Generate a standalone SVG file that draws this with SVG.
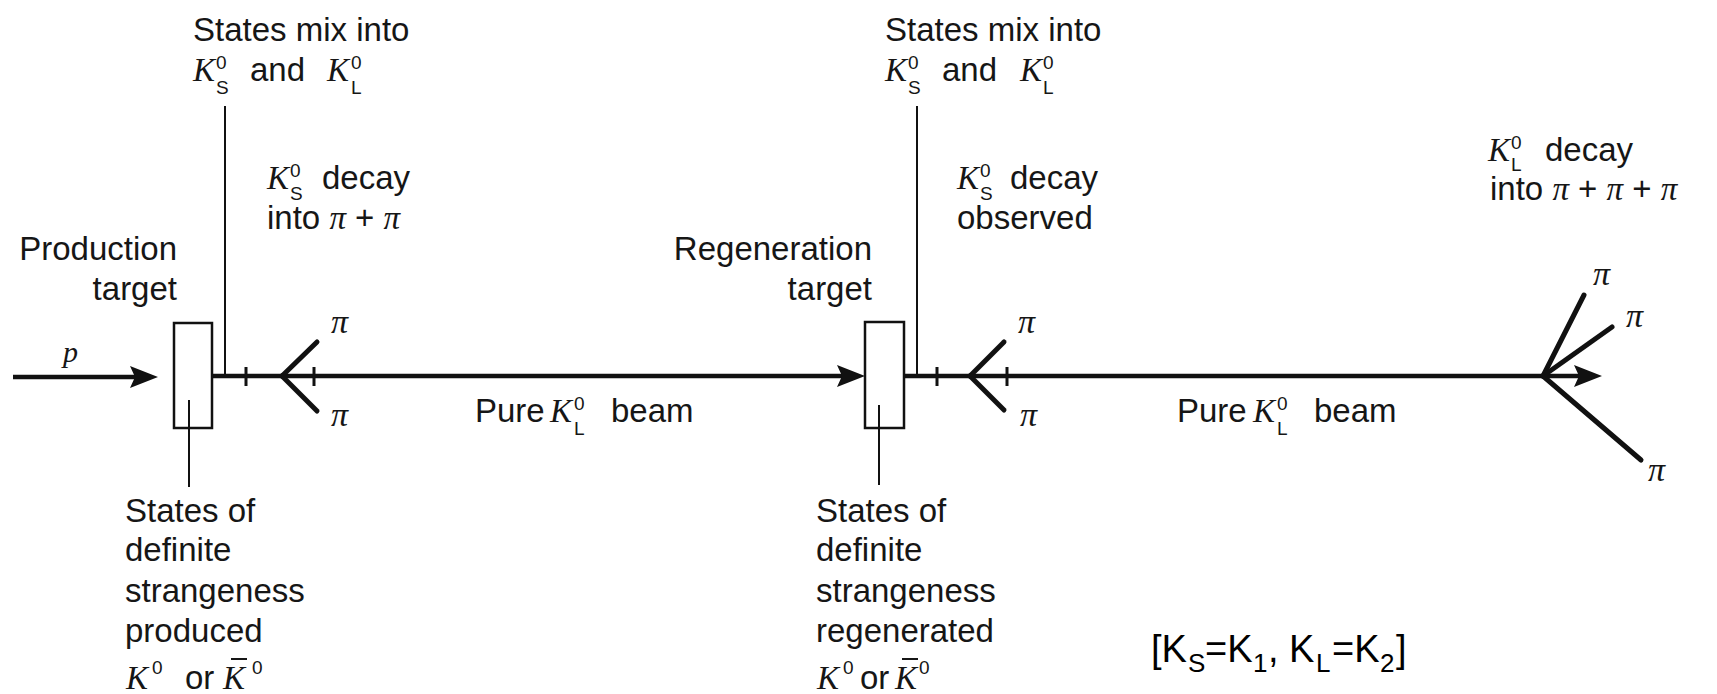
<svg xmlns="http://www.w3.org/2000/svg" width="1717" height="694" viewBox="0 0 1717 694">
<style>
.t{font-family:"Liberation Sans",Arial,sans-serif;font-size:33px;fill:#161616}
.k{font-family:"Liberation Serif","Times New Roman",serif;font-style:italic;font-size:33px}
.s{font-family:"Liberation Sans",Arial,sans-serif;font-style:normal;font-size:19px}
.pi{font-family:"Liberation Serif","Times New Roman",serif;font-style:italic;font-size:34px;fill:#161616}
.c{font-family:"Comic Sans MS","Liberation Sans",sans-serif;font-size:38px;fill:#000}
.cs{font-size:26px}
.box{fill:none;stroke:#111;stroke-width:2.5}
.beam{stroke:#111;stroke-width:4.5;fill:none}
.lead{stroke:#111;stroke-width:2;fill:none}
.tick{stroke:#111;stroke-width:3;fill:none}
.trk{stroke:#111;stroke-width:5;fill:none;stroke-linecap:round}
</style>
<defs>
<marker id="ah" viewBox="0 0 28 22" refX="5" refY="11" markerWidth="28" markerHeight="22" markerUnits="userSpaceOnUse" orient="auto">
<path d="M0,0 L28,11 L0,22 L5,11 z" fill="#111"/>
</marker>
</defs>
<rect width="1717" height="694" fill="#fff"/>

<g id="connectors">
<line class="beam" x1="13" y1="377" x2="135" y2="377" marker-end="url(#ah)"/>
<line class="beam" x1="212" y1="376" x2="842" y2="376" marker-end="url(#ah)"/>
<line class="beam" x1="904" y1="376" x2="1579" y2="376" marker-end="url(#ah)"/>
<line class="lead" x1="225" y1="106" x2="225" y2="376"/>
<line class="lead" x1="917" y1="106" x2="917" y2="376"/>
<line class="lead" x1="189" y1="400" x2="189" y2="487"/>
<line class="lead" x1="879" y1="405" x2="879" y2="485"/>
<line class="tick" x1="246" y1="367" x2="246" y2="386"/>
<line class="tick" x1="314" y1="367" x2="314" y2="386"/>
<line class="tick" x1="937" y1="367" x2="937" y2="386"/>
<line class="tick" x1="1007" y1="367" x2="1007" y2="386"/>
<line class="trk" x1="282" y1="376" x2="317" y2="342"/>
<line class="trk" x1="282" y1="376" x2="317" y2="411"/>
<line class="trk" x1="970" y1="376" x2="1004" y2="342"/>
<line class="trk" x1="970" y1="376" x2="1004" y2="410"/>
<line class="trk" x1="1543" y1="376" x2="1584" y2="295"/>
<line class="trk" x1="1543" y1="376" x2="1612" y2="327"/>
<line class="trk" x1="1543" y1="376" x2="1641" y2="460"/>
</g>

<g id="proton">
<text class="pi" x="63" y="362" style="font-size:30px">p</text>
</g>

<g id="production-target">
<rect class="box" x="174" y="323" width="38" height="105"/>
<text class="t" x="177" y="260" text-anchor="end">Production</text>
<text class="t" x="177" y="300" text-anchor="end">target</text>
</g>

<g id="mix-1">
<text class="t" x="193" y="41">States mix into</text>
<text class="t" y="81"><tspan class="k" x="193">K</tspan><tspan class="s" x="216" y="69">0</tspan><tspan class="s" x="216" y="94">S</tspan><tspan x="250" y="81">and</tspan><tspan class="k" x="327">K</tspan><tspan class="s" x="351" y="69">0</tspan><tspan class="s" x="351" y="94">L</tspan></text>
</g>

<g id="ks-decay-1">
<text class="t" y="189"><tspan class="k" x="267">K</tspan><tspan class="s" x="290" y="177">0</tspan><tspan class="s" x="290" y="200">S</tspan><tspan x="322" y="189">decay</tspan></text>
<text class="t" x="267" y="229">into <tspan class="k">π</tspan> + <tspan class="k">π</tspan></text>
<text class="pi" x="331" y="333">π</text>
<text class="pi" x="331" y="426">π</text>
</g>

<g id="strangeness-1">
<text class="t" x="125" y="522">States of</text>
<text class="t" x="125" y="561">definite</text>
<text class="t" x="125" y="602">strangeness</text>
<text class="t" x="125" y="642">produced</text>
<text class="t" y="689"><tspan class="k" x="126">K</tspan><tspan class="s" x="152" y="674">0</tspan><tspan x="185" y="689">or</tspan><tspan class="k" x="223">K</tspan><tspan class="s" x="252" y="674">0</tspan></text>
<line x1="231" y1="659" x2="247" y2="659" stroke="#161616" stroke-width="2"/>
</g>

<g id="beam-label-1">
<text class="t" y="422"><tspan x="475">Pure</tspan><tspan class="k" x="550">K</tspan><tspan class="s" x="574" y="410">0</tspan><tspan class="s" x="574" y="435">L</tspan><tspan x="611" y="422">beam</tspan></text>
</g>

<g id="regeneration-target">
<rect class="box" x="865" y="322" width="39" height="106"/>
<text class="t" x="872" y="260" text-anchor="end">Regeneration</text>
<text class="t" x="872" y="300" text-anchor="end">target</text>
</g>

<g id="mix-2">
<text class="t" x="885" y="41">States mix into</text>
<text class="t" y="81"><tspan class="k" x="885">K</tspan><tspan class="s" x="908" y="69">0</tspan><tspan class="s" x="908" y="94">S</tspan><tspan x="942" y="81">and</tspan><tspan class="k" x="1020">K</tspan><tspan class="s" x="1043" y="69">0</tspan><tspan class="s" x="1043" y="94">L</tspan></text>
</g>

<g id="ks-decay-2">
<text class="t" y="189"><tspan class="k" x="957">K</tspan><tspan class="s" x="980" y="177">0</tspan><tspan class="s" x="980" y="200">S</tspan><tspan x="1010" y="189">decay</tspan></text>
<text class="t" x="957" y="229">observed</text>
<text class="pi" x="1018" y="333">π</text>
<text class="pi" x="1020" y="426">π</text>
</g>

<g id="strangeness-2">
<text class="t" x="816" y="522">States of</text>
<text class="t" x="816" y="561">definite</text>
<text class="t" x="816" y="602">strangeness</text>
<text class="t" x="816" y="642">regenerated</text>
<text class="t" y="689"><tspan class="k" x="817">K</tspan><tspan class="s" x="843" y="674">0</tspan><tspan x="860" y="689">or</tspan><tspan class="k" x="895">K</tspan><tspan class="s" x="919" y="674">0</tspan></text>
<line x1="902" y1="659" x2="918" y2="659" stroke="#161616" stroke-width="2"/>
</g>

<g id="beam-label-2">
<text class="t" y="422"><tspan x="1177">Pure</tspan><tspan class="k" x="1253">K</tspan><tspan class="s" x="1277" y="410">0</tspan><tspan class="s" x="1277" y="435">L</tspan><tspan x="1314" y="422">beam</tspan></text>
</g>

<g id="kl-decay">
<text class="t" y="161"><tspan class="k" x="1488">K</tspan><tspan class="s" x="1511" y="149">0</tspan><tspan class="s" x="1511" y="171">L</tspan><tspan x="1545" y="161">decay</tspan></text>
<text class="t" x="1490" y="200">into <tspan class="k">π</tspan> + <tspan class="k">π</tspan> + <tspan class="k">π</tspan></text>
<text class="pi" x="1593" y="285">π</text>
<text class="pi" x="1626" y="327">π</text>
<text class="pi" x="1648" y="481">π</text>
</g>

<g id="legend">
<text class="c" y="662"><tspan x="1151">[K</tspan><tspan class="cs" x="1188" y="672">S</tspan><tspan x="1205" y="662">=K</tspan><tspan class="cs" x="1253" y="672">1</tspan><tspan x="1268" y="662">, K</tspan><tspan class="cs" x="1316" y="672">L</tspan><tspan x="1332" y="662">=K</tspan><tspan class="cs" x="1380" y="672">2</tspan><tspan x="1396" y="662">]</tspan></text>
</g>
</svg>
